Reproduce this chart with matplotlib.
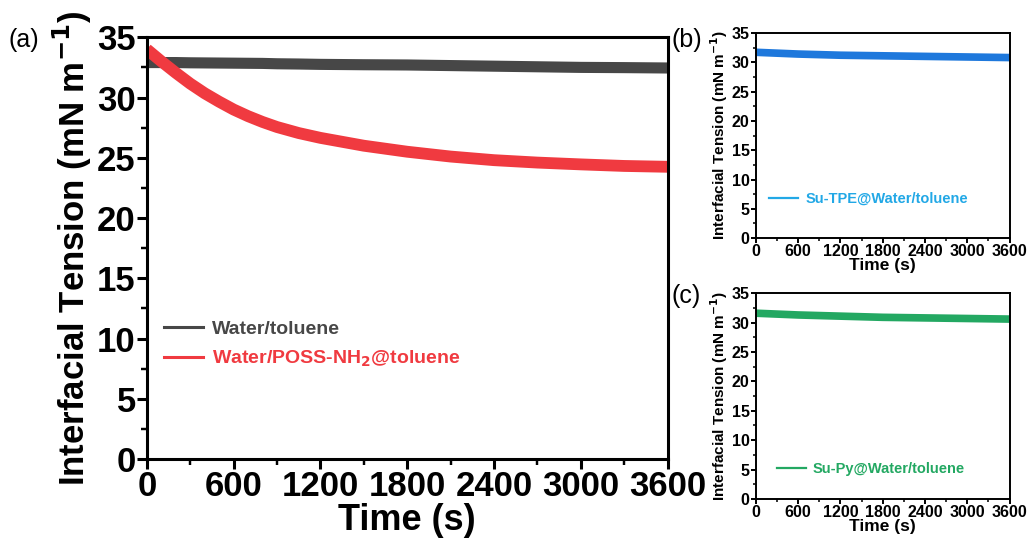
import matplotlib
matplotlib.use("Agg")
import matplotlib.pyplot as plt
from matplotlib.lines import Line2D
from matplotlib.ticker import MultipleLocator

plt.rcParams['font.family'] = ['Liberation Sans', 'DejaVu Sans']

# ---- data ----
t_a = [0, 100, 200, 300, 400, 500, 600, 700, 800, 900, 1050, 1200, 1500, 1800,
       2100, 2400, 2700, 3000, 3300, 3600]
water_toluene = [32.9, 32.9, 32.9, 32.88, 32.87, 32.86, 32.85, 32.84, 32.83, 32.8,
                 32.78, 32.75, 32.72, 32.7, 32.65, 32.6, 32.55, 32.5, 32.48, 32.45]
water_poss = [34.0, 33.0, 32.05, 31.15, 30.35, 29.65, 29.0, 28.45, 27.97, 27.55,
              27.05, 26.65, 26.0, 25.5, 25.1, 24.8, 24.6, 24.45, 24.32, 24.25]

t_bc = [0, 600, 1200, 1800, 2400, 3000, 3600]
su_tpe = [31.7, 31.4, 31.2, 31.1, 31.0, 30.9, 30.8]
su_py = [31.6, 31.3, 31.1, 30.9, 30.8, 30.7, 30.6]

xticks = [0, 600, 1200, 1800, 2400, 3000, 3600]
yticks = [0, 5, 10, 15, 20, 25, 30, 35]
ylab = 'Interfacial Tension (mN m$^{\\mathbf{-1}}$)'

fig = plt.figure(figsize=(10.27, 5.40), dpi=100)

def style(ax, tick_fs, spine_w, major_len, minor_len):
    ax.set_xlim(0, 3600)
    ax.set_ylim(0, 35)
    ax.set_xticks(xticks)
    ax.set_yticks(yticks)
    ax.xaxis.set_minor_locator(MultipleLocator(300))
    ax.yaxis.set_minor_locator(MultipleLocator(2.5))
    for s in ax.spines.values():
        s.set_linewidth(spine_w)
    ax.tick_params(which='major', direction='out', length=major_len, width=spine_w,
                   labelsize=tick_fs, pad=1)
    ax.tick_params(which='minor', direction='out', length=minor_len, width=spine_w * 0.8)
    ax.tick_params(top=False, right=False, which='both')
    for lab in ax.get_xticklabels() + ax.get_yticklabels():
        lab.set_fontweight('bold')

# ---- panel (a) ----
ax = fig.add_axes([0.143, 0.150, 0.507, 0.781])
c_black = '#474747'
c_red = '#f03a40'
ax.plot(t_a, water_toluene, color=c_black, lw=8, solid_capstyle='butt')
ax.plot(t_a, water_poss, color=c_red, lw=8.5, solid_capstyle='butt')
style(ax, 25, 2.2, 7, 4)
ax.set_xlabel('Time (s)', fontsize=26, fontweight='bold', labelpad=0)
ax.set_ylabel(ylab, fontsize=25, fontweight='bold', labelpad=2)
handles = [Line2D([], [], color=c_black, lw=2.2), Line2D([], [], color=c_red, lw=2.2)]
ax.legend(handles, ['Water/toluene', 'Water/POSS-NH$_\\mathbf{2}$@toluene'],
          loc='upper left', bbox_to_anchor=(0.0, 0.37), frameon=False,
          handlelength=2.0, handletextpad=0.45, labelspacing=0.55,
          prop={'size': 14, 'weight': 'bold'}, labelcolor='linecolor')
fig.text(0.008, 0.925, '(a)', fontsize=18, va='center', ha='left')

# ---- panel (b) ----
axb = fig.add_axes([0.736, 0.559, 0.247, 0.380])
c_blue = '#1e78dc'
axb.plot(t_bc, su_tpe, color=c_blue, lw=5.5, solid_capstyle='butt')
style(axb, 11.5, 1.4, 3.5, 2)
axb.set_xlabel('Time (s)', fontsize=12.5, fontweight='bold', labelpad=-1)
axb.set_ylabel(ylab, fontsize=11, fontweight='bold', labelpad=1)
hb = [Line2D([], [], color='#22a8e6', lw=1.6)]
axb.legend(hb, ['Su-TPE@Water/toluene'], loc='center left', bbox_to_anchor=(0.0, 0.19),
           frameon=False, handlelength=2.0, handletextpad=0.5,
           prop={'size': 10.5, 'weight': 'bold'}, labelcolor='#22a8e6')
fig.text(0.654, 0.925, '(b)', fontsize=18, va='center', ha='left')

# ---- panel (c) ----
axc = fig.add_axes([0.736, 0.076, 0.247, 0.381])
c_green = '#23a862'
axc.plot(t_bc, su_py, color=c_green, lw=5.5, solid_capstyle='butt')
style(axc, 11.5, 1.4, 3.5, 2)
axc.set_xlabel('Time (s)', fontsize=12.5, fontweight='bold', labelpad=-1)
axc.set_ylabel(ylab, fontsize=11, fontweight='bold', labelpad=1)
hc = [Line2D([], [], color=c_green, lw=1.6)]
axc.legend(hc, ['Su-Py@Water/toluene'], loc='center left', bbox_to_anchor=(0.03, 0.145),
           frameon=False, handlelength=2.0, handletextpad=0.5,
           prop={'size': 10.5, 'weight': 'bold'}, labelcolor=c_green)
fig.text(0.654, 0.452, '(c)', fontsize=18, va='center', ha='left')

fig.savefig('out.png', dpi=100)
